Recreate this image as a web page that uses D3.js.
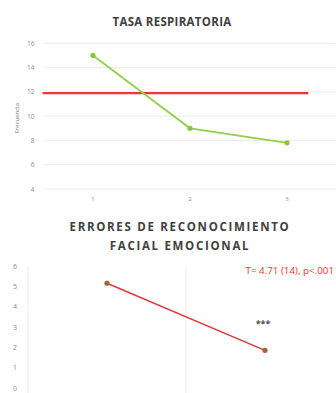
<!DOCTYPE html>
<html>
<head>
<meta charset="utf-8">
<script src="https://cdn.jsdelivr.net/npm/d3@7"></script>
<style>
  html, body { margin: 0; padding: 0; background: #fff; }
  svg { display: block; }
</style>
</head>
<body>
<svg id="chart" width="336" height="393"></svg>
<script>
// Respiratory rate by session
const respCategories = ["1", "2", "3"];
const respValues = [15.0, 9.0, 7.8];
const respTicks = [4, 6, 8, 10, 12, 14, 16];
const respReference = 11.9;
const respReferenceSpan = [0.48, 3.22];

// Facial emotion recognition errors, pre / post
const errCategories = ["pre", "post"];
const errValues = [5.15, 1.85];
const errTicks = [0, 1, 2, 3, 4, 5, 6];
const errStat = "T= 4.71 (14), p<.001";
const errSig = "***";

const svg = d3.select("#chart");
const FONT = "'Open Sans', 'Liberation Sans', sans-serif";
const TICK_COLOR = "#8c8c8c";
const GRID_COLOR = "#ececec";

// ---------- Top panel ----------
const upper = { left: 44.5, right: 335.5, top: 43.3, bottom: 189 };
const x1 = d3.scaleBand().domain(respCategories).range([upper.left, upper.right]);
const x1n = d3.scaleLinear().domain([0.5, 3.5]).range([upper.left, upper.right]);
const y1 = d3.scaleLinear().domain([4, 16]).range([upper.bottom, upper.top]);

svg.append("text")
  .attr("x", 172).attr("y", 26)
  .attr("text-anchor", "middle")
  .attr("font-family", FONT).attr("font-weight", "bold")
  .attr("font-size", 11.5).attr("letter-spacing", 0.3).attr("fill", "#404040")
  .text("TASA RESPIRATORIA");

const g1 = svg.append("g");
g1.append("g").selectAll("line").data(respTicks).join("line")
  .attr("x1", upper.left).attr("x2", upper.right)
  .attr("y1", d => y1(d)).attr("y2", d => y1(d))
  .attr("stroke", GRID_COLOR).attr("stroke-width", 1);

const yAxis1 = d3.axisLeft(y1).tickValues(respTicks).tickSize(0).tickPadding(10);
g1.append("g").attr("transform", `translate(${upper.left},0)`).call(yAxis1)
  .call(a => a.select(".domain").remove())
  .selectAll("text").attr("font-family", FONT).attr("font-size", 6.5).attr("fill", TICK_COLOR);

const xAxis1 = d3.axisBottom(x1).tickSize(0).tickPadding(8);
g1.append("g").attr("transform", `translate(0,${upper.bottom})`).call(xAxis1)
  .call(a => a.select(".domain").remove())
  .selectAll("text").attr("font-family", FONT).attr("font-size", 6).attr("fill", TICK_COLOR);

g1.append("text")
  .attr("transform", `translate(19,${(upper.top + upper.bottom) / 2 + 2}) rotate(-90)`)
  .attr("text-anchor", "middle")
  .attr("font-family", FONT).attr("font-size", 6).attr("fill", "#808080")
  .text("Frecuencia");

g1.append("line")
  .attr("x1", x1n(respReferenceSpan[0])).attr("x2", x1n(respReferenceSpan[1]))
  .attr("y1", y1(respReference)).attr("y2", y1(respReference))
  .attr("stroke", "#f0353a").attr("stroke-width", 2.4);

const line1 = d3.line()
  .x((d, i) => x1(respCategories[i]) + x1.bandwidth() / 2)
  .y(d => y1(d));
g1.append("path").datum(respValues)
  .attr("d", line1).attr("fill", "none")
  .attr("stroke", "#93cf4a").attr("stroke-width", 1.8);
g1.selectAll("circle.pt").data(respValues).join("circle")
  .attr("class", "pt")
  .attr("cx", (d, i) => x1(respCategories[i]) + x1.bandwidth() / 2)
  .attr("cy", d => y1(d)).attr("r", 2.6)
  .attr("fill", "#8cc640");

// ---------- Bottom panel ----------
const lower = { left: 28, right: 344, top: 266, bottom: 388 };
const x2 = d3.scaleBand().domain(errCategories).range([lower.left, lower.right]);
const y2 = d3.scaleLinear().domain([0, 6]).range([lower.bottom, lower.top]);

const title2 = svg.append("text")
  .attr("text-anchor", "middle")
  .attr("font-family", FONT).attr("font-weight", "bold")
  .attr("font-size", 11.5).attr("letter-spacing", 1.7).attr("fill", "#404040");
title2.append("tspan").attr("x", 180).attr("y", 231).text("ERRORES DE RECONOCIMIENTO");
title2.append("tspan").attr("x", 180).attr("y", 250).text("FACIAL EMOCIONAL");

const g2 = svg.append("g");
g2.append("g").selectAll("line").data([x2.range()[0], x2(errCategories[1])]).join("line")
  .attr("x1", d => d).attr("x2", d => d)
  .attr("y1", lower.top).attr("y2", 393)
  .attr("stroke", GRID_COLOR).attr("stroke-width", 1);

const yAxis2 = d3.axisLeft(y2).tickValues(errTicks).tickFormat(d3.format("d"))
  .tickSize(0).tickPadding(11);
g2.append("g").attr("transform", `translate(${lower.left},0)`).call(yAxis2)
  .call(a => a.select(".domain").remove())
  .selectAll("text").attr("font-family", FONT).attr("font-size", 7).attr("fill", TICK_COLOR);

const line2 = d3.line()
  .x((d, i) => x2(errCategories[i]) + x2.bandwidth() / 2)
  .y(d => y2(d));
g2.append("path").datum(errValues)
  .attr("d", line2).attr("fill", "none")
  .attr("stroke", "#e0393e").attr("stroke-width", 1.6);
g2.selectAll("circle.pt").data(errValues).join("circle")
  .attr("class", "pt")
  .attr("cx", (d, i) => x2(errCategories[i]) + x2.bandwidth() / 2)
  .attr("cy", d => y2(d)).attr("r", 2.3)
  .attr("fill", "#7d7a2c").attr("stroke", "#d9473a").attr("stroke-width", 0.8);

g2.append("text")
  .attr("x", 334).attr("y", 274)
  .attr("text-anchor", "end")
  .attr("font-family", FONT).attr("font-size", 9.8).attr("fill", "#ff3030")
  .text(errStat);

g2.append("text")
  .attr("x", x2(errCategories[1]) + x2.bandwidth() / 2 - 2).attr("y", 327)
  .attr("text-anchor", "middle")
  .attr("font-family", FONT).attr("font-size", 9).attr("font-weight", "bold").attr("fill", "#505050")
  .text(errSig);
</script>
</body>
</html>
